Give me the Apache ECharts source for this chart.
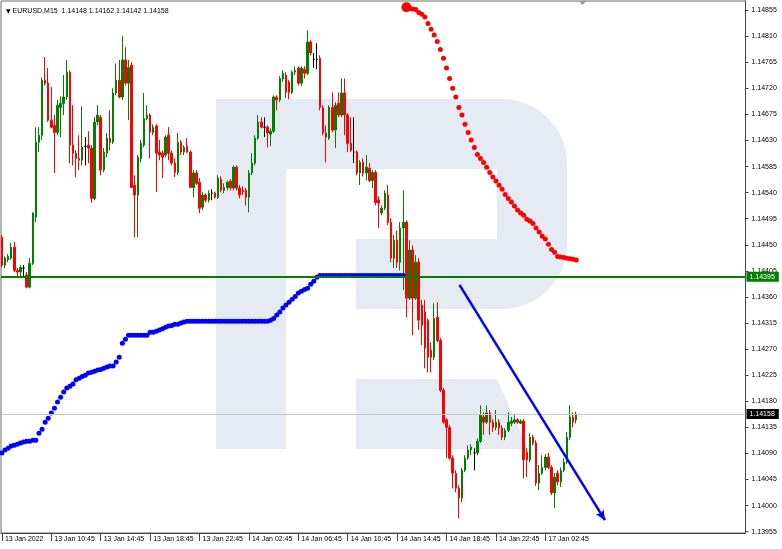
<!DOCTYPE html>
<html><head><meta charset="utf-8">
<script src="https://cdn.jsdelivr.net/npm/echarts@6/dist/echarts.min.js"></script>
<style>html,body{margin:0;padding:0;background:#fff}#c{width:782px;height:549px}</style>
</head><body><div id="c"></div>
<script>
// ---- data ----
const timeLabels = ['13 Jan 2022','13 Jan 10:45','13 Jan 14:45','13 Jan 18:45','13 Jan 22:45','14 Jan 02:45','14 Jan 06:45','14 Jan 10:45','14 Jan 14:45','14 Jan 18:45','14 Jan 22:45','17 Jan 02:45'];
const timeTickBars = [0,16,32,48,64,80,96,112,128,144,160,176];
const priceTicks = [1.13955,1.14000,1.14045,1.14090,1.14135,1.14180,1.14225,1.14270,1.14315,1.14360,1.14405,1.14450,1.14495,1.14540,1.14585,1.14630,1.14675,1.14720,1.14765,1.14810,1.14855];
const symbolTitle = 'EURUSD,M15  1.14148 1.14162 1.14142 1.14158';

const openPrices = [1.14463,1.14415,1.14424,1.14427,1.14446,1.14406,1.14403,1.14410,1.14398,1.14377,1.14418,1.14498,1.14627,1.14639,1.14734,1.14729,1.14665,1.14656,1.14644,1.14687,
1.14694,1.14705,1.14748,1.14622,1.14608,1.14599,1.14596,1.14620,1.14622,1.14617,1.14530,1.14662,1.14670,1.14579,1.14608,1.14634,1.14627,1.14712,1.14734,1.14705,
1.14769,1.14729,1.14760,1.14553,1.14536,1.14599,1.14622,1.14668,1.14674,1.14644,1.14655,1.14610,1.14608,1.14605,1.14639,1.14608,1.14591,1.14575,1.14627,1.14610,
1.14620,1.14610,1.14549,1.14574,1.14558,1.14515,1.14536,1.14527,1.14539,1.14539,1.14532,1.14563,1.14544,1.14549,1.14560,1.14548,1.14584,1.14548,1.14544,1.14544,
1.14532,1.14574,1.14591,1.14634,1.14662,1.14653,1.14653,1.14641,1.14646,1.14705,1.14700,1.14736,1.14743,1.14731,1.14713,1.14748,1.14755,1.14729,1.14753,1.14746,
1.14800,1.14770,1.14770,1.14772,1.14687,1.14643,1.14634,1.14687,1.14648,1.14694,1.14674,1.14712,1.14674,1.14625,1.14610,1.14610,1.14574,1.14592,1.14574,1.14582,
1.14561,1.14575,1.14527,1.14505,1.14513,1.14536,1.14489,1.14427,1.14458,1.14420,1.14479,1.14489,1.14358,1.14441,1.14358,1.14420,1.14346,1.14334,1.14320,1.14268,
1.14256,1.14325,1.14285,1.14199,1.14148,1.14135,1.14082,1.14056,1.14030,1.14013,1.14061,1.14082,1.14096,1.14091,1.14091,1.14111,1.14153,1.14144,1.14160,1.14144,
1.14135,1.14144,1.14134,1.14118,1.14130,1.14142,1.14144,1.14148,1.14142,1.14146,1.14092,1.14079,1.14118,1.14108,1.14039,1.14056,1.14066,1.14084,1.14066,1.14022,
1.14056,1.14041,1.14061,1.14075,1.14118,1.14153,1.14148];
const closePrices = [1.14415,1.14427,1.14430,1.14446,1.14406,1.14403,1.14411,1.14410,1.14377,1.14418,1.14505,1.14627,1.14639,1.14734,1.14729,1.14665,1.14653,1.14644,1.14691,1.14694,
1.14705,1.14748,1.14622,1.14608,1.14599,1.14596,1.14618,1.14620,1.14617,1.14530,1.14662,1.14674,1.14579,1.14610,1.14634,1.14627,1.14712,1.14734,1.14705,1.14769,
1.14729,1.14756,1.14549,1.14536,1.14601,1.14625,1.14668,1.14674,1.14644,1.14653,1.14608,1.14605,1.14601,1.14636,1.14608,1.14591,1.14575,1.14627,1.14610,1.14618,
1.14610,1.14549,1.14574,1.14556,1.14513,1.14536,1.14527,1.14539,1.14539,1.14532,1.14565,1.14544,1.14549,1.14558,1.14548,1.14584,1.14548,1.14536,1.14541,1.14532,
1.14574,1.14591,1.14634,1.14662,1.14653,1.14653,1.14643,1.14646,1.14705,1.14700,1.14737,1.14746,1.14713,1.14713,1.14748,1.14751,1.14729,1.14755,1.14746,1.14800,
1.14781,1.14770,1.14770,1.14687,1.14643,1.14636,1.14687,1.14648,1.14691,1.14674,1.14712,1.14674,1.14625,1.14613,1.14610,1.14574,1.14592,1.14574,1.14584,1.14561,
1.14575,1.14523,1.14522,1.14513,1.14539,1.14489,1.14427,1.14458,1.14420,1.14479,1.14489,1.14358,1.14441,1.14358,1.14420,1.14320,1.14311,1.14272,1.14256,1.14256,
1.14323,1.14285,1.14199,1.14144,1.14135,1.14082,1.14056,1.14030,1.14013,1.14061,1.14082,1.14096,1.14101,1.14091,1.14111,1.14156,1.14144,1.14160,1.14144,1.14135,
1.14144,1.14134,1.14118,1.14130,1.14144,1.14146,1.14148,1.14144,1.14146,1.14079,1.14079,1.14118,1.14108,1.14039,1.14056,1.14066,1.14084,1.14066,1.14022,1.14049,
1.14041,1.14061,1.14075,1.14118,1.14153,1.14144,1.14158];
const lowPrices = [1.14411,1.14410,1.14420,1.14424,1.14403,1.14394,1.14394,1.14394,1.14375,1.14375,1.14415,1.14489,1.14610,1.14631,1.14725,1.14662,1.14651,1.14574,1.14639,1.14636,
1.14674,1.14700,1.14591,1.14587,1.14567,1.14579,1.14587,1.14587,1.14591,1.14523,1.14527,1.14656,1.14570,1.14575,1.14601,1.14613,1.14624,1.14708,1.14703,1.14700,
1.14725,1.14665,1.14548,1.14463,1.14463,1.14592,1.14618,1.14665,1.14599,1.14639,1.14541,1.14596,1.14565,1.14601,1.14596,1.14587,1.14567,1.14570,1.14605,1.14605,
1.14608,1.14548,1.14532,1.14553,1.14505,1.14510,1.14523,1.14523,1.14527,1.14530,1.14529,1.14541,1.14539,1.14544,1.14544,1.14544,1.14544,1.14530,1.14536,1.14518,
1.14506,1.14570,1.14587,1.14631,1.14651,1.14636,1.14618,1.14620,1.14643,1.14682,1.14696,1.14731,1.14703,1.14701,1.14710,1.14743,1.14725,1.14724,1.14737,1.14743,
1.14777,1.14755,1.14753,1.14682,1.14639,1.14592,1.14631,1.14644,1.14617,1.14670,1.14670,1.14639,1.14610,1.14610,1.14591,1.14570,1.14553,1.14568,1.14561,1.14558,
1.14548,1.14518,1.14479,1.14501,1.14510,1.14484,1.14420,1.14410,1.14410,1.14406,1.14372,1.14325,1.14355,1.14294,1.14355,1.14303,1.14277,1.14237,1.14230,1.14230,
1.14251,1.14282,1.14196,1.14141,1.14082,1.14079,1.14030,1.14023,1.13978,1.14006,1.14058,1.14079,1.14087,1.14061,1.14087,1.14108,1.14122,1.14141,1.14122,1.14127,
1.14130,1.14122,1.14113,1.14113,1.14127,1.14137,1.14141,1.14141,1.14141,1.14047,1.14049,1.14075,1.14104,1.14034,1.14027,1.14053,1.14061,1.14063,1.14018,1.13996,
1.14035,1.14032,1.14058,1.14072,1.14113,1.14135,1.14142];
const highPrices = [1.14467,1.14430,1.14434,1.14453,1.14455,1.14410,1.14415,1.14415,1.14403,1.14427,1.14506,1.14653,1.14653,1.14739,1.14774,1.14755,1.14722,1.14674,1.14700,1.14706,
1.14743,1.14769,1.14751,1.14691,1.14613,1.14639,1.14689,1.14636,1.14646,1.14622,1.14670,1.14691,1.14674,1.14617,1.14643,1.14682,1.14720,1.14763,1.14769,1.14810,
1.14791,1.14769,1.14765,1.14570,1.14605,1.14631,1.14712,1.14691,1.14677,1.14658,1.14658,1.14631,1.14613,1.14639,1.14653,1.14613,1.14599,1.14643,1.14631,1.14622,
1.14634,1.14613,1.14579,1.14579,1.14565,1.14541,1.14539,1.14544,1.14546,1.14542,1.14570,1.14568,1.14556,1.14561,1.14563,1.14587,1.14587,1.14553,1.14551,1.14548,
1.14579,1.14608,1.14639,1.14674,1.14670,1.14670,1.14656,1.14651,1.14708,1.14708,1.14741,1.14751,1.14748,1.14734,1.14751,1.14758,1.14758,1.14758,1.14758,1.14820,
1.14803,1.14781,1.14798,1.14777,1.14691,1.14656,1.14691,1.14713,1.14696,1.14713,1.14737,1.14737,1.14677,1.14670,1.14670,1.14613,1.14596,1.14599,1.14605,1.14591,
1.14579,1.14579,1.14534,1.14518,1.14544,1.14553,1.14496,1.14467,1.14475,1.14489,1.14544,1.14492,1.14458,1.14449,1.14432,1.14427,1.14355,1.14355,1.14323,1.14282,
1.14349,1.14351,1.14289,1.14203,1.14151,1.14139,1.14087,1.14061,1.14035,1.14065,1.14087,1.14104,1.14106,1.14099,1.14116,1.14173,1.14161,1.14173,1.14165,1.14149,
1.14165,1.14149,1.14139,1.14134,1.14161,1.14153,1.14156,1.14151,1.14149,1.14149,1.14099,1.14125,1.14122,1.14113,1.14070,1.14087,1.14089,1.14091,1.14070,1.14056,
1.14061,1.14066,1.14082,1.14127,1.14173,1.14161,1.14162];

const blueStartBar = 0;
const blueDots = [1.14091,1.14096,1.14099,1.14103,1.14104,1.14106,1.14108,1.14110,1.14111,1.14111,1.14113,1.14113,
1.14125,1.14132,1.14144,1.14151,1.14160,1.14168,1.14179,1.14187,1.14196,1.14203,1.14206,1.14210,1.14217,1.14220,1.14223,1.14225,1.14229,1.14230,
1.14232,1.14234,1.14235,1.14237,1.14239,1.14241,1.14241,1.14248,1.14256,1.14280,1.14287,
1.14294,1.14294,1.14294,1.14294,1.14294,1.14294,1.14294,
1.14299,1.14299,1.14301,1.14303,1.14305,1.14308,1.14310,1.14311,1.14313,1.14313,1.14315,1.14317,
1.14318,1.14318,1.14318,1.14318,1.14318,1.14318,1.14318,1.14318,1.14318,1.14318,1.14318,1.14318,1.14318,1.14318,1.14318,1.14318,1.14318,1.14318,1.14318,1.14318,1.14318,1.14318,1.14318,1.14318,1.14318,1.14318,1.14318,
1.14320,1.14323,1.14329,1.14334,1.14341,1.14346,1.14351,1.14356,1.14361,1.14367,1.14370,1.14373,1.14375,1.14382,1.14387,1.14394,
1.14397,1.14397,1.14397,1.14397,1.14397,1.14397,1.14397,1.14397,1.14397,1.14397,1.14397,1.14397,1.14397,1.14397,1.14397,1.14397,1.14397,1.14397,1.14397,1.14397,1.14397,1.14397,1.14397,1.14397,1.14397,1.14397,1.14397,1.14397];

const redStartBar = 131;
const redDots = [1.14860,1.14858,1.14857,1.14856,1.14851,1.14848,1.14843,1.14832,1.14822,1.14812,1.14801,1.14787,1.14772,1.14755,1.14737,1.14720,1.14705,1.14687,1.14674,1.14658,
1.14644,1.14631,1.14618,1.14606,1.14599,1.14592,1.14584,1.14575,1.14567,1.14560,1.14553,1.14546,1.14537,1.14530,1.14524,1.14517,1.14510,1.14505,1.14501,1.14494,
1.14491,1.14487,1.14479,1.14472,1.14465,1.14460,1.14451,1.14442,1.14437,1.14430,1.14429,1.14428,1.14427,1.14426,1.14425,1.14424];

const supportLevel = 1.14395;
const bidLevel = 1.14158;
const arrowFrom = [148.2, 1.14381];
const arrowTo = [195.3, 1.13975];

// ---- watermark geometry (decoration only) ----
function arcPts(cx, cy, r, a0, a1, n) {
  const pts = [];
  for (let k = 0; k <= n; k++) {
    const a = (a0 + (a1 - a0) * k / n) * Math.PI / 180;
    pts.push([cx + r * Math.cos(a), cy + r * Math.sin(a)]);
  }
  return pts;
}
const bowlPts = [[216,99],[502,99]]
  .concat(arcPts(502,164,65,-90,0,16))
  .concat(arcPts(502,244,65,0,90,16))
  .concat([[356,309],[356,239],[497,239],[497,169],[286,169],[286,449],[216,449]]);

// ---- chart ----
const FONT = 'Liberation Sans';
const chart = echarts.init(document.getElementById('c'), null, {renderer: 'canvas'});
const candles = openPrices.map((o, i) => [i, o, closePrices[i], lowPrices[i], highPrices[i]]);

chart.setOption({
  animation: false,
  backgroundColor: '#ffffff',
  textStyle: {fontFamily: FONT},
  title: {
    text: '{t|▼} ' + symbolTitle,
    left: 1, top: 3,
    textStyle: {fontSize: 7, fontWeight: 'normal', color: '#000', fontFamily: FONT,
      rich: {t: {fontSize: 6, color: '#000', fontFamily: 'DejaVu Sans'}}}
  },
  graphic: {
    elements: [
      {type: 'polygon', z: -10, silent: true, shape: {points: bowlPts}, style: {fill: '#e5eaf3'}},
      {type: 'polygon', z: -10, silent: true, shape: {points: [[356,379],[497,379],[528,449],[356,449]]}, style: {fill: '#e5eaf3'}},
      {type: 'polygon', z: 10, silent: true, shape: {points: [[579,1],[586,1],[582.5,5]]}, style: {fill: '#9a9a9a'}}
    ]
  },
  grid: {left: 1, right: 36.5, top: 1, bottom: 16, show: true, borderColor: '#6a6a6a', borderWidth: 1, backgroundColor: 'transparent'},
  xAxis: {
    type: 'value', min: -0.3, max: 240.83,
    axisLine: {onZero: false, lineStyle: {color: '#444', width: 1}},
    axisTick: {show: true, customValues: timeTickBars, length: 8, lineStyle: {color: '#444'}},
    axisLabel: {customValues: timeTickBars, formatter: v => timeLabels[timeTickBars.indexOf(v)] || '',
      align: 'left', padding: [0,0,0,3], fontSize: 7, margin: 3, color: '#000', fontFamily: FONT},
    splitLine: {show: false}
  },
  yAxis: {
    type: 'value', position: 'right', min: 1.139528, max: 1.148707, scale: true,
    axisLine: {show: true, onZero: false, lineStyle: {color: '#444', width: 1}},
    axisTick: {show: true, customValues: priceTicks, length: 3, lineStyle: {color: '#444'}},
    axisLabel: {customValues: priceTicks, formatter: v => v.toFixed(5), fontSize: 7, margin: 6, color: '#000', fontFamily: FONT},
    splitLine: {show: false}
  },
  series: [
    {
      type: 'candlestick', name: 'EURUSD', data: candles, encode: {x: 0, y: [1,2,3,4]},
      barWidth: 2, silent: true, z: 3,
      itemStyle: {color: '#008000', color0: '#ff0000', borderColor: '#008000', borderColor0: '#ff0000', borderColorDoji: '#000000', borderWidth: 1}
    },
    {
      type: 'scatter', name: 'blue', silent: true, z: 4,
      data: blueDots.map((v, k) => [blueStartBar + k, v]),
      symbolSize: 5, itemStyle: {color: '#0000ff', opacity: 1},
      markLine: {
        silent: true, symbol: ['none','none'], animation: false, z: 5, precision: 5,
        data: [
          {yAxis: supportLevel, lineStyle: {color: '#008000', width: 2, type: 'solid'},
           label: {show: true, position: 'end', distance: 1, formatter: supportLevel.toFixed(5), color: '#ffffff', backgroundColor: '#008000', padding: [2,4,1,3], fontSize: 7, fontFamily: FONT}},
          {yAxis: bidLevel, lineStyle: {color: '#c6c6c6', width: 1, type: 'solid'},
           label: {show: true, position: 'end', distance: 1, formatter: bidLevel.toFixed(5), color: '#ffffff', backgroundColor: '#000000', padding: [2,4,1,3], fontSize: 7, fontFamily: FONT}},
          [
            {coord: arrowFrom, symbol: 'none', lineStyle: {color: '#0000ff', width: 2.5, type: 'solid'}, label: {show: false}},
            {coord: arrowTo, symbol: 'arrow', symbolSize: [7, 10]}
          ]
        ]
      }
    },
    {
      type: 'scatter', name: 'red', silent: true, z: 4,
      data: redDots.map((v, k) => [redStartBar + k, v]),
      symbolSize: (val, p) => p.dataIndex === 0 ? 10 : 5, itemStyle: {color: '#ff0000', opacity: 1}
    }
  ]
});
</script>
</body></html>
